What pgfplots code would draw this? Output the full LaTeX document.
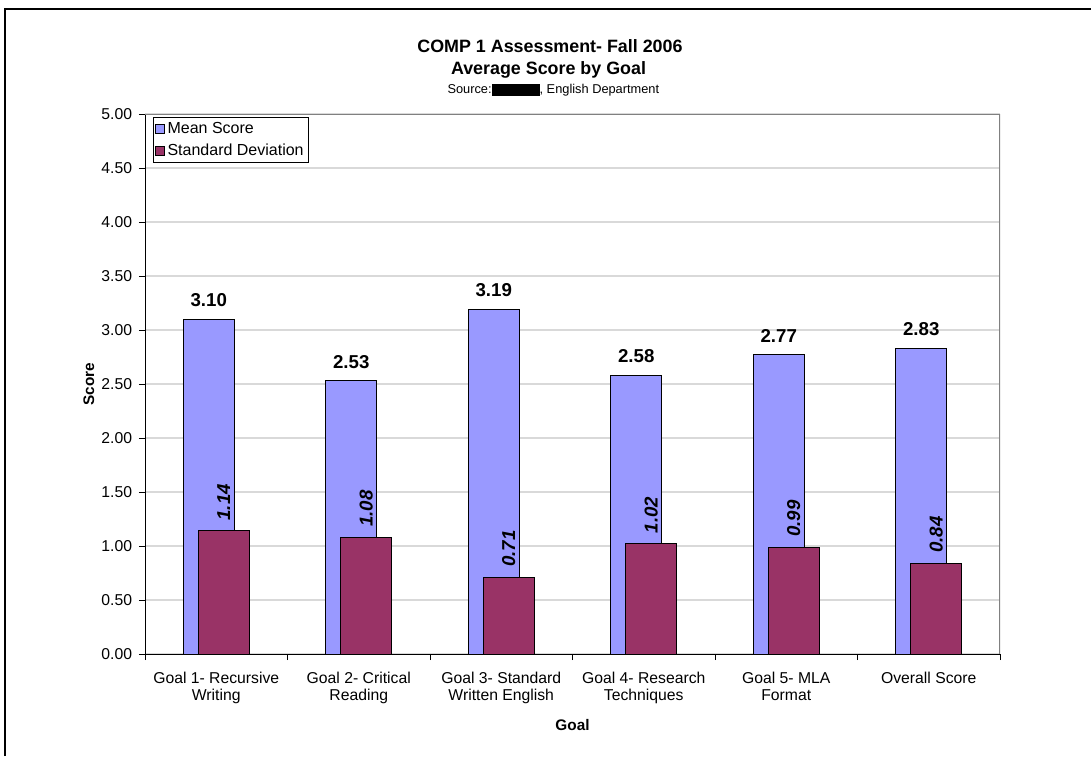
\documentclass[border=0pt]{standalone}
\usepackage{fontspec}
\setmainfont{Liberation Sans}
\usepackage{pgfplots}
\pgfplotsset{compat=1.18}
\definecolor{meanc}{HTML}{9999FF}
\definecolor{sdc}{HTML}{993366}
\definecolor{gridc}{HTML}{D9D9D9}
\definecolor{framec}{HTML}{808080}
\pgfplotsset{sqlegend/.style={legend image code/.code={\draw[##1, line width=0.6pt] (0pt,-3.4pt) rectangle (6.75pt,3.4pt);}}}
\begin{document}
\begin{tikzpicture}
\useasboundingbox (0,0) rectangle (818.25pt,-567pt);
\fill[white] (0,0) rectangle (818.25pt,-567pt);
\draw[line width=1.5pt] (4.1pt,-567pt) -- (4.1pt,-6.75pt) -- (818.25pt,-6.75pt);
\begin{axis}[
  at={(108.75pt,-490.5pt)}, anchor=south west,
  scale only axis, width=641.25pt, height=405pt,
  xmin=-0.5, xmax=5.5, ymin=0, ymax=5,
  ybar, bar width=38.25pt,
  axis x line*=bottom, axis y line*=left,
  axis line style={-, black, line width=0.75pt},
  ytick={0,0.5,1,1.5,2,2.5,3,3.5,4,4.5,5},
  /pgf/number format/assume math mode=true,
  yticklabel={\pgfmathprintnumber[fixed,fixed zerofill,precision=2]{\tick}},
  yticklabel style={font=\fontsize{11.8pt}{13pt}\selectfont, anchor=east, inner sep=0pt, xshift=-5pt},
  ymajorgrids, grid style={gridc, line width=0.9pt},
  tick align=outside,
  major tick length=4.5pt, minor tick length=4.5pt,
  xtick={0,1,2,3,4,5},
  xticklabels={{Goal 1- Recursive\\Writing},{Goal 2- Critical\\Reading},{Goal 3- Standard\\Written English},{Goal 4- Research\\Techniques},{Goal 5- MLA\\Format},{Overall Score}},
  xticklabel style={font=\fontsize{11.8pt}{12.75pt}\selectfont, align=center, anchor=north, inner sep=0pt, yshift=-9pt},
  major x tick style={draw=none},
  minor xtick={-0.5,0.5,1.5,2.5,3.5,4.5,5.5},
  minor x tick style={black, line width=0.75pt},
  major y tick style={black, line width=0.75pt},
  xlabel={Goal}, ylabel={Score},
  every axis x label/.style={at={(axis description cs:0.5,0)}, anchor=base, yshift=-57pt, font=\bfseries\fontsize{11.5pt}{13pt}\selectfont},
  every axis y label/.style={at={(axis description cs:0,0.5)}, rotate=90, anchor=base, yshift=38.25pt, font=\bfseries\fontsize{11.5pt}{13pt}\selectfont},
  legend style={at={(0.009,0.994)}, anchor=north west, draw=black, fill=white, line width=0.6pt,
    font=\fontsize{12pt}{14pt}\selectfont, inner xsep=1.5pt, inner ysep=1.5pt, row sep=2.5pt,
    /tikz/every even column/.style={column sep=1pt}},
  legend cell align=left,
  sqlegend,
]
\addplot[fill=meanc, draw=black, line width=0.75pt, bar shift=-5.625pt,
  nodes near coords={\pgfmathprintnumber[fixed,fixed zerofill,precision=2]{\pgfplotspointmeta}},
  every node near coord/.append style={font=\bfseries\fontsize{14pt}{16pt}\selectfont, anchor=south, inner sep=0pt, yshift=9pt, black}]
  coordinates {(0,3.10) (1,2.53) (2,3.19) (3,2.58) (4,2.77) (5,2.83)};
\addlegendentry{Mean Score}
\addplot[fill=sdc, draw=black, line width=0.75pt, bar shift=5.625pt,
  nodes near coords={\pgfmathprintnumber[fixed,fixed zerofill,precision=2]{\pgfplotspointmeta}},
  every node near coord/.append style={font=\bfseries\itshape\fontsize{14pt}{16pt}\selectfont, rotate=90, anchor=west, inner ysep=0pt, inner xsep=7.5pt, black}]
  coordinates {(0,1.14) (1,1.08) (2,0.71) (3,1.02) (4,0.99) (5,0.84)};
\addlegendentry{Standard Deviation}
\draw[framec, line width=1.1pt] (rel axis cs:0,1) -- (rel axis cs:1,1) -- (rel axis cs:1,0);
\end{axis}
\node[anchor=base, font=\bfseries\fontsize{13.4pt}{16pt}\selectfont] at (412.5pt,-39.2pt) {COMP 1 Assessment- Fall 2006};
\node[anchor=base, font=\bfseries\fontsize{13.4pt}{16pt}\selectfont] at (411.4pt,-56.25pt) {Average Score by Goal};
\node[anchor=base, font=\fontsize{9.6pt}{11pt}\selectfont] at (415pt,-70.5pt) {Source:\rule[-1.5pt]{36pt}{9pt}, English Department};
\end{tikzpicture}
\end{document}
